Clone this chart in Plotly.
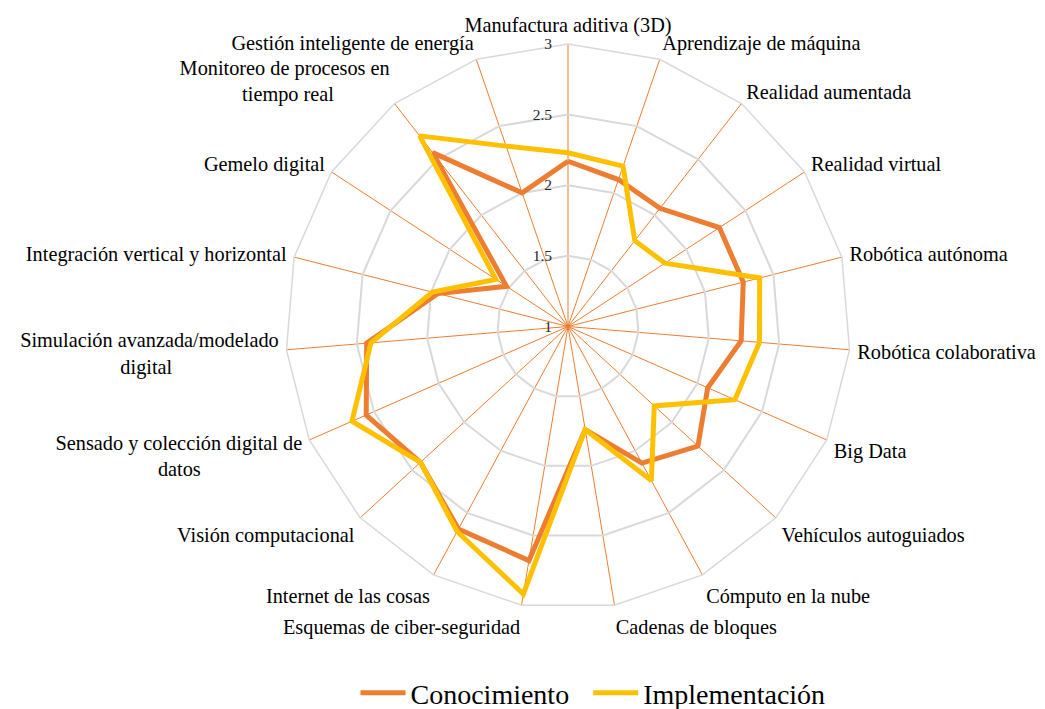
import plotly.graph_objects as go

NB = "\u00a0"
categories = [
    "Manufactura aditiva (3D)", "Aprendizaje de máquina", "Realidad aumentada",
    "Realidad virtual", "Robótica autónoma", "Robótica colaborativa", "Big Data",
    "Vehículos autoguiados", "Cómputo en la nube", "Cadenas de bloques",
    "Esquemas de ciber-seguridad", "Internet de las cosas", "Visión computacional",
    "Sensado y colección digital de<br>datos" + NB * 20,
    "Simulación avanzada/modelado<br>digital" + NB * 21,
    "Integración vertical y horizontal", "Gemelo digital",
    "Monitoreo de procesos en<br>tiempo real" + NB * 11,
    "Gestión inteligente de energía",
]
conocimiento = [2.17, 2.10, 2.06, 2.28, 2.28, 2.23, 2.08, 2.25, 2.10, 1.74,
                2.68, 2.63, 2.42, 2.56, 2.43, 1.95, 1.52, 2.56, 2.00]
implementacion = [2.23, 2.20, 1.77, 1.82, 2.40, 2.36, 2.29, 1.83, 2.24, 1.74,
                  2.92, 2.65, 2.42, 2.67, 2.40, 1.99, 1.61, 2.71, 2.35]
tick_vals = [1, 1.5, 2, 2.5, 3]
tick_text = ["1", "1.5", "2", "2.5", "3"]

FONT = "Liberation Serif, Times New Roman, serif"

fig = go.Figure()
fig.add_trace(go.Scatterpolar(
    r=conocimiento + conocimiento[:1], theta=categories + categories[:1],
    mode="lines", name="Conocimiento" + NB * 2,
    line=dict(color="#ED7D31", width=5),
))
fig.add_trace(go.Scatterpolar(
    r=implementacion + implementacion[:1], theta=categories + categories[:1],
    mode="lines", name="Implementación",
    line=dict(color="#FFC000", width=5),
))

# page body has an 8px margin: figure coordinates = screen - 8
OFF = 8
W, H = 1045 - OFF, 709 - OFF
cx, cy, R = 568 - OFF, 326.5 - OFF, 282.5
fig.update_layout(
    width=W, height=H,
    margin=dict(l=0, r=0, t=0, b=0, autoexpand=False),
    paper_bgcolor="white", plot_bgcolor="white",
    font=dict(family=FONT, size=20.3, color="#000000"),
    polar=dict(
        domain=dict(x=[(cx - R) / W, (cx + R) / W], y=[(H - cy - R) / H, (H - cy + R) / H]),
        bgcolor="white",
        gridshape="linear",
        radialaxis=dict(
            range=[1, 3], tickvals=tick_vals, ticktext=tick_text,
            angle=90, tickangle=90, side="counterclockwise",
            showline=False, ticks="outside", ticklen=10, tickcolor="rgba(0,0,0,0)",
            gridcolor="#D9D9D9", gridwidth=1.5,
            tickfont=dict(family=FONT, size=15.5, color="#262626"),
        ),
        angularaxis=dict(
            direction="clockwise", rotation=90,
            gridcolor="#ED7D31", gridwidth=1.4,
            showline=True, linecolor="#D9D9D9", linewidth=1.5,
            ticks="outside", ticklen=3, tickcolor="rgba(0,0,0,0)",
            tickfont=dict(family=FONT, size=20.3, color="#000000"),
        ),
    ),
    legend=dict(
        orientation="h", x=(593 - OFF) / W, xanchor="center",
        y=(H - (693 - OFF)) / H, yanchor="middle",
        font=dict(family=FONT, size=28, color="#000000"),
        itemwidth=45,
    ),
)

fig.write_html("out.html")
